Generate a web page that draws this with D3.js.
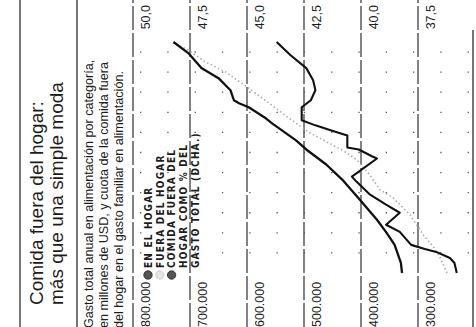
<!DOCTYPE html>
<html>
<head>
<meta charset="utf-8">
<script src="https://cdn.jsdelivr.net/npm/d3@7"></script>
<style>
  html, body { margin: 0; padding: 0; background: #fff; }
  svg { display: block; }
</style>
</head>
<body>
<svg id="chart" width="476" height="327"></svg>
<script>
// ---- Data -------------------------------------------------------------
const leftTicks  = [300000, 400000, 500000, 600000, 700000, 800000];
const rightTicks = [37.5, 40, 42.5, 45, 47.5, 50];
const gridYears  = [1994, 1996, 1998, 2000, 2002, 2004, 2006, 2008, 2010, 2012, 2014];

// Spending at home, millions of USD (left axis)
const homeYears  = [1992.0, 1993.0, 1994.8, 1996.0, 1997.3, 1999.3, 2001.3, 2002.8, 2004.3, 2005.2,
                    2006.9, 2007.4, 2008.5, 2008.9, 2009.2, 2010.2, 2011.4, 2012.4, 2013.9, 2015.0];
const homeValues = [328000, 330000, 341000, 355000, 372000, 402000, 433000, 461000, 496000, 514000,
                    556000, 567000, 597000, 614000, 623000, 629000, 650000, 680000, 703000, 729000];

// Spending away from home, millions of USD (left axis)
const awayYears  = [1992.0, 1993.5, 1994.6, 1995.8, 1997.8, 1999.5, 2000.3, 2001.8, 2003.3, 2004.1,
                    2004.9, 2006.0, 2007.4, 2008.9, 2010.4, 2012.0, 2013.0, 2014.2, 2015.0];
const awayValues = [249000, 261000, 273000, 291000, 314000, 344000, 367000, 385000, 408000, 429000,
                    455000, 491000, 526000, 561000, 597000, 637000, 673000, 703000, 733000];

// Away-from-home share of total food spending, % (right axis)
const shareYears  = [1992.0, 1993.0, 1993.5, 1994.1, 1994.4, 1994.8, 1996.1, 1996.8, 1998.0, 1998.8,
                     1999.8, 2001.1, 2001.6, 2003.4, 2003.6, 2004.3, 2004.5, 2005.7, 2006.2, 2006.7,
                     2007.2, 2007.9, 2008.5, 2009.2, 2010.2, 2011.2, 2012.4, 2013.7, 2015.0];
const shareValues = [35.8, 35.9, 36.1, 36.7, 37.2, 37.8, 38.3, 38.9, 38.3, 38.9,
                     39.6, 40.2, 40.4, 39.3, 39.5, 40.1, 40.6, 40.6, 41.3, 42.0,
                     42.6, 42.6, 42.6, 42.2, 42.0, 42.1, 42.4, 43.1, 43.7];

const title    = ["Comida fuera del hogar:", "más que una simple moda"];
const subtitle = ["Gasto total anual en alimentación por categoría,",
                  "en millones de USD, y cuota de la comida fuera",
                  "del hogar en el gasto familiar en alimentación."];
const legendLines = [
  { text: "EN EL HOGAR", marker: "dark" },
  { text: "FUERA DEL HOGAR", marker: "light" },
  { text: "COMIDA FUERA DEL", marker: "dark" },
  { text: "HOGAR COMO % DEL", marker: null },
  { text: "GASTO TOTAL (DCHA.)", marker: null }
];

// ---- Layout (the graphic is laid out upright, then turned a quarter turn) ----
const W = 327;                      // upright width
const svg = d3.select("#chart");
const g = svg.append("g").attr("transform", `translate(0,${327}) rotate(-90)`);

const x  = d3.scaleLinear().domain([1992, 2015]).range([54, 285]);
const yL = d3.scaleLinear().domain([300000, 800000]).range([418, 133]);
const yR = d3.scaleLinear().domain([37.5, 50]).range([418, 133]);

const ink = "#1c1c1c";
const sans = "'Liberation Sans', Arial, sans-serif";

// Rules framing the title
[20, 77].forEach(yy => g.append("line")
  .attr("x1", -5).attr("x2", W + 5).attr("y1", yy).attr("y2", yy)
  .attr("stroke", ink).attr("stroke-width", 1.2));

g.selectAll("text.title").data(title).join("text")
  .attr("class", "title")
  .attr("x", 22).attr("y", (d, i) => 43 + i * 20)
  .attr("font-family", sans).attr("font-size", 19).attr("fill", ink)
  .text(d => d);

g.selectAll("text.sub").data(subtitle).join("text")
  .attr("class", "sub")
  .attr("x", -1).attr("y", (d, i) => 93 + i * 15)
  .attr("font-family", sans).attr("font-size", 12.6).attr("fill", ink)
  .text(d => d);

// Horizontal gridlines with labels hanging beneath them
g.selectAll("line.grid").data(leftTicks).join("line")
  .attr("class", "grid")
  .attr("x1", 0).attr("x2", W)
  .attr("y1", d => yL(d)).attr("y2", d => yL(d))
  .attr("stroke", ink).attr("stroke-width", 1.1)
  .attr("stroke-dasharray", "24,3");

const axisL = d3.axisLeft(yL).tickValues(leftTicks).tickSize(0)
  .tickFormat(d => d3.format(",")(d).replace(/,/g, "."));
const gl = g.append("g").call(axisL);
gl.select(".domain").remove();
gl.selectAll("text")
  .attr("x", 0).attr("dy", "1.3em")
  .attr("text-anchor", "start")
  .attr("font-family", sans).attr("font-size", 12.5).attr("fill", ink);

const axisR = d3.axisRight(yR).tickValues(rightTicks).tickSize(0)
  .tickFormat(d => d3.format(".1f")(d).replace(".", ","));
const gr = g.append("g").attr("transform", `translate(${W},0)`).call(axisR);
gr.select(".domain").remove();
gr.selectAll("text")
  .attr("x", -5).attr("dy", "1.3em")
  .attr("text-anchor", "end")
  .attr("font-family", sans).attr("font-size", 12.5).attr("fill", ink);

// Faint dotted year gridlines
g.selectAll("line.vgrid").data(gridYears).join("line")
  .attr("class", "vgrid")
  .attr("x1", d => x(d)).attr("x2", d => x(d))
  .attr("y1", 140).attr("y2", 470)
  .attr("stroke", "#555").attr("stroke-width", 1.3)
  .attr("stroke-dasharray", "1.3,26");

// Baseline
g.append("line")
  .attr("x1", 0).attr("x2", 297).attr("y1", 473).attr("y2", 473)
  .attr("stroke", ink).attr("stroke-width", 1.2);

// Series
const lineL = d3.line().x(d => x(d[0])).y(d => yL(d[1]));
const lineR = d3.line().x(d => x(d[0])).y(d => yR(d[1]));

g.append("path")
  .datum(d3.zip(awayYears, awayValues))
  .attr("d", lineL).attr("fill", "none")
  .attr("stroke", "#ababab").attr("stroke-width", 1.6)
  .attr("stroke-dasharray", "1.5,2.5");

g.append("path")
  .datum(d3.zip(homeYears, homeValues))
  .attr("d", lineL).attr("fill", "none")
  .attr("stroke", "#111").attr("stroke-width", 2.3)
  .attr("stroke-linejoin", "round");

g.append("path")
  .datum(d3.zip(shareYears, shareValues))
  .attr("d", lineR).attr("fill", "none")
  .attr("stroke", "#111").attr("stroke-width", 2.1)
  .attr("stroke-linejoin", "round");

// Legend
const lg = g.append("g").attr("transform", "translate(52,0)");
legendLines.forEach((l, i) => {
  const yy = 148 + i * 11.8;
  if (l.marker) {
    lg.append("circle").attr("cx", 0).attr("cy", yy)
      .attr("r", 4.2)
      .attr("fill", l.marker === "dark" ? "#555" : "#e4e4e4")
      .attr("stroke", l.marker === "dark" ? "#222" : "#ccc").attr("stroke-width", 0.8);
  }
  lg.append("text").attr("x", 7).attr("y", yy + 3.8)
    .attr("font-family", "'DejaVu Sans Condensed', 'DejaVu Sans', sans-serif")
    .attr("font-weight", "bold").attr("font-size", 10)
    .attr("letter-spacing", 1.2).attr("fill", ink)
    .text(l.text);
});
</script>
</body>
</html>
